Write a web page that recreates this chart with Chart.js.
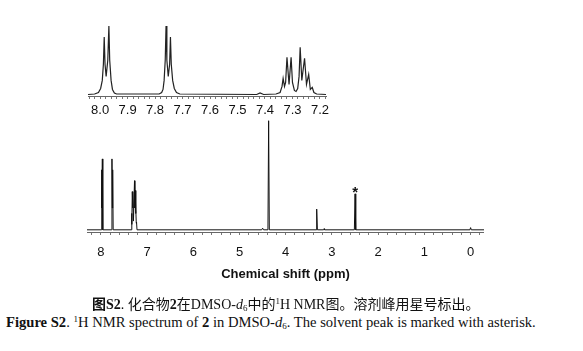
<!DOCTYPE html>
<html>
<head>
<meta charset="utf-8">
<script src="https://cdn.jsdelivr.net/npm/chart.js@4.4.0/dist/chart.umd.min.js"></script>
<style>
  body { margin:0; width:583px; height:351px; background:#fff; position:relative; overflow:hidden; }
  canvas { position:absolute; }
  .cap { position:absolute; white-space:nowrap; color:#111; font-family:"Liberation Serif","Noto Sans CJK SC",serif; }
  .cap sup, .cap sub { font-size:9px; }
  .cap sup { vertical-align:5px; }
  .cap sub { vertical-align:-2px; }
</style>
</head>
<body>
<canvas id="inset" width="252" height="103" style="left:88px;top:15px"></canvas>
<canvas id="main" width="397" height="170" style="left:87px;top:112px"></canvas>
<div class="cap" style="left:92px;top:293px;font-size:14px"><b>图S2</b>. 化合物<b>2</b>在DMSO-<i>d</i><sub>6</sub>中的<sup>1</sup>H NMR图。溶剂峰用星号标出。</div>
<div class="cap" style="left:6px;top:314px;font-size:14.6px"><b>Figure S2</b>. <sup>1</sup>H NMR spectrum of <b>2</b> in DMSO-<i>d</i><sub>6</sub>. The solvent peak is marked with asterisk.</div>
<script>
// full spectrum (ppm, relative intensity)
const mainShift = [8.30, 7.995, 7.985, 7.977, 7.968, 7.958,
  7.770, 7.760, 7.752, 7.744, 7.734,
  7.345, 7.334, 7.327, 7.320, 7.312, 7.305, 7.295, 7.272, 7.264, 7.256, 7.248, 7.241, 7.234, 7.228, 7.218,
  4.52, 4.50, 4.48, 4.385, 4.37, 4.355,
  3.345, 3.33, 3.315, 3.18, 3.17, 3.16,
  2.515, 2.50, 2.485, 0.015, 0.0, -0.015, -0.29];
const mainIntensity = [0, 0, 55, 20, 65, 0,
  0, 65, 20, 55, 0,
  0, 15, 5, 35, 20, 35, 8, 45, 20, 36, 15, 19, 6, 7, 0,
  0, 1.5, 0, 0, 100, 0,
  0, 19, 0, 0, 1, 0,
  0, 33, 0, 0, 2, 0, 0];

// aromatic region, expanded
const insetShift = [8.044, 8.02, 8.006, 7.998, 7.992, 7.988, 7.985, 7.982, 7.978, 7.976, 7.972, 7.968, 7.965, 7.960, 7.955, 7.948, 7.94,
  7.785, 7.776, 7.771, 7.767, 7.763, 7.760, 7.757, 7.752, 7.750, 7.747, 7.744, 7.741, 7.736, 7.730, 7.722, 7.71,
  7.43, 7.418, 7.405,
  7.36, 7.345, 7.338, 7.334, 7.329, 7.325, 7.320, 7.3125, 7.305, 7.300, 7.293, 7.287, 7.281, 7.276, 7.272, 7.266, 7.256, 7.249, 7.241, 7.235, 7.228, 7.222, 7.212, 7.178];
const insetIntensity = [0, 0.5, 2, 6, 14, 30, 57, 30, 18, 18, 34, 68, 34, 14, 5, 1.5, 0.5,
  0.5, 2, 5, 14, 34, 68, 34, 18, 18, 30, 57, 30, 14, 6, 2, 0.5,
  0, 1.5, 0,
  0.5, 2, 8, 16, 8, 12, 37, 10, 37, 12, 4, 3, 6, 18, 47, 14, 36, 10, 20, 5, 7, 2, 0.5, 0];

const mainTickLabels = [8, 7, 6, 5, 4, 3, 2, 1, 0];
const insetTickLabels = ['8.0', '7.9', '7.8', '7.7', '7.6', '7.5', '7.4', '7.3', '7.2'];
const solventPeak = {x: 2.50, y: 33, label: '*'};

const tickFont = {family: 'Liberation Sans, Arial, sans-serif', size: 13};

function minorTicks(from, to, step) {
  let out = [];
  let n = Math.round((from - to) / step);
  for (let k = 0; k <= n; k++) out.push(Math.round((to + k * step) * 1000) / 1000);
  return out;
}

const starPlugin = {
  id: 'star',
  afterDatasetsDraw(chart) {
    const {ctx, scales} = chart;
    ctx.save();
    ctx.font = 'bold 15px Liberation Sans, Arial, sans-serif';
    ctx.fillStyle = '#111';
    ctx.textAlign = 'center';
    ctx.textBaseline = 'alphabetic';
    ctx.fillText(solventPeak.label, scales.x.getPixelForValue(solventPeak.x), scales.y.getPixelForValue(solventPeak.y) + 3);
    ctx.restore();
  }
};

function spectrum(id, xs, ys, opt) {
  return new Chart(document.getElementById(id), {
    type: 'line',
    data: {
      datasets: [{
        data: xs.map((x, i) => ({x: x, y: ys[i]})),
        borderColor: opt.color,
        borderWidth: opt.lineWidth,
        pointRadius: 0,
        tension: 0
      }]
    },
    options: {
      responsive: false,
      animation: false,
      layout: {padding: opt.padding},
      plugins: {legend: {display: false}, tooltip: {enabled: false}},
      scales: {
        x: {
          type: 'linear',
          reverse: true,
          min: opt.min,
          max: opt.max,
          afterBuildTicks: (scale) => {
            scale.ticks = opt.ticks.map(v => ({value: v}));
          },
          afterFit: (scale) => { scale.height = opt.axisHeight; },
          grid: {drawOnChartArea: false, tickLength: 3, color: '#777'},
          border: {color: '#666'},
          ticks: {
            autoSkip: false,
            maxRotation: 0,
            padding: opt.pad,
            color: '#111',
            font: tickFont,
            callback: opt.label
          },
          title: opt.title
        },
        y: {display: false, min: opt.ymin, max: opt.ymax}
      }
    },
    plugins: opt.plugins
  });
}

spectrum('main', mainShift, mainIntensity, {
  color: '#111', lineWidth: 1, min: -0.29, max: 8.3, ymin: -2, ymax: 108,
  axisHeight: 50, pad: 10, padding: 0,
  ticks: minorTicks(8.2, -0.2, 0.2),
  label: (v) => mainTickLabels.includes(v) ? String(v) : '',
  title: {display: true, text: 'Chemical shift (ppm)', color: '#111',
          font: {family: 'Liberation Sans, Arial, sans-serif', size: 13, weight: 'bold'},
          padding: {top: 4, bottom: 0}},
  plugins: [starPlugin]
});

spectrum('inset', insetShift, insetIntensity, {
  color: '#222', lineWidth: 1.2, min: 7.178, max: 8.044, ymin: -1.5, ymax: 79,
  axisHeight: 22, pad: 4, padding: {left: 0, right: 14, top: 0, bottom: 0},
  ticks: minorTicks(8.04, 7.18, 0.02),
  label: (v) => {
    let s = v.toFixed(2);
    return s.endsWith('0') && insetTickLabels.includes(v.toFixed(1)) ? v.toFixed(1) : '';
  },
  title: {display: false},
  plugins: []
});
</script>
</body>
</html>
